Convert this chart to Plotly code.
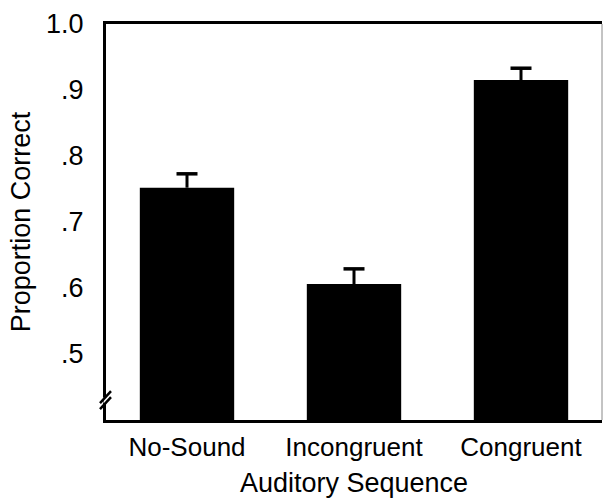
import plotly.graph_objects as go

categories = ["No-Sound", "Incongruent", "Congruent"]
proportion_correct = [0.752, 0.606, 0.915]
error_up = [0.021, 0.023, 0.018]
tick_values = [0.5, 0.6, 0.7, 0.8, 0.9, 1.0]
tick_labels = [".5", ".6", ".7", ".8", ".9", "1.0"]
break_value = 0.43

FONT = "Liberation Sans, Arial, sans-serif"

cap_y = [v + e for v, e in zip(proportion_correct, error_up)]

fig = go.Figure()
fig.add_trace(go.Bar(
    x=categories,
    y=proportion_correct,
    width=0.565,
    marker=dict(color="black", line=dict(width=0)),
    error_y=dict(type="data", symmetric=False, array=error_up,
                 arrayminus=[0] * len(error_up),
                 color="black", thickness=3, width=0),
))
# caps of the upward error bars
fig.add_trace(go.Scatter(
    x=categories, y=cap_y, mode="markers",
    marker=dict(symbol="line-ew-open", size=15, color="black",
                line=dict(color="black", width=3.5)),
    hoverinfo="skip",
))

fig.update_layout(
    width=603, height=498,
    margin=dict(l=106, r=1, t=24, b=78, autoexpand=False),
    plot_bgcolor="white", paper_bgcolor="white",
    showlegend=False,
    font=dict(family=FONT, color="black"),
)
fig.update_xaxes(
    range=[-0.485, 2.485],
    showline=True, linecolor="black", linewidth=3, mirror=True,
    ticks="", showgrid=False, zeroline=False,
    tickfont=dict(size=26, family=FONT),
    ticklabelstandoff=2,
    automargin=False,
    title=dict(text="Auditory Sequence", font=dict(size=27, family=FONT), standoff=12),
)
fig.update_yaxes(
    range=[0.4, 1.0],
    showline=True, linecolor="black", linewidth=3, mirror=False,
    ticks="", showgrid=False, zeroline=False,
    tickvals=tick_values, ticktext=tick_labels,
    tickfont=dict(size=27, family=FONT),
    ticklabelstandoff=14,
    automargin=False,
    title=dict(text="Proportion Correct", font=dict(size=27, family=FONT), standoff=8),
)

# thin right border
fig.add_shape(type="line", xref="paper", yref="paper", x0=1, x1=1, y0=0, y1=1,
              line=dict(color="#888888", width=1))
# white gap in the axis at the break
fig.add_shape(type="line", xref="paper", yref="y",
              xsizemode="pixel", xanchor=0, x0=0, x1=0,
              ysizemode="pixel", yanchor=break_value, y0=-3, y1=3,
              line=dict(color="white", width=5))
# axis break marks
for off in (-3, 3):
    fig.add_shape(type="line", xref="paper", yref="y",
                  xsizemode="pixel", xanchor=0, x0=-6, x1=5,
                  ysizemode="pixel", yanchor=break_value, y0=off - 6, y1=off + 6,
                  line=dict(color="black", width=2.5))

fig.write_html("out.html", post_script="document.body.style.margin='0';",
               config={"displayModeBar": False})
